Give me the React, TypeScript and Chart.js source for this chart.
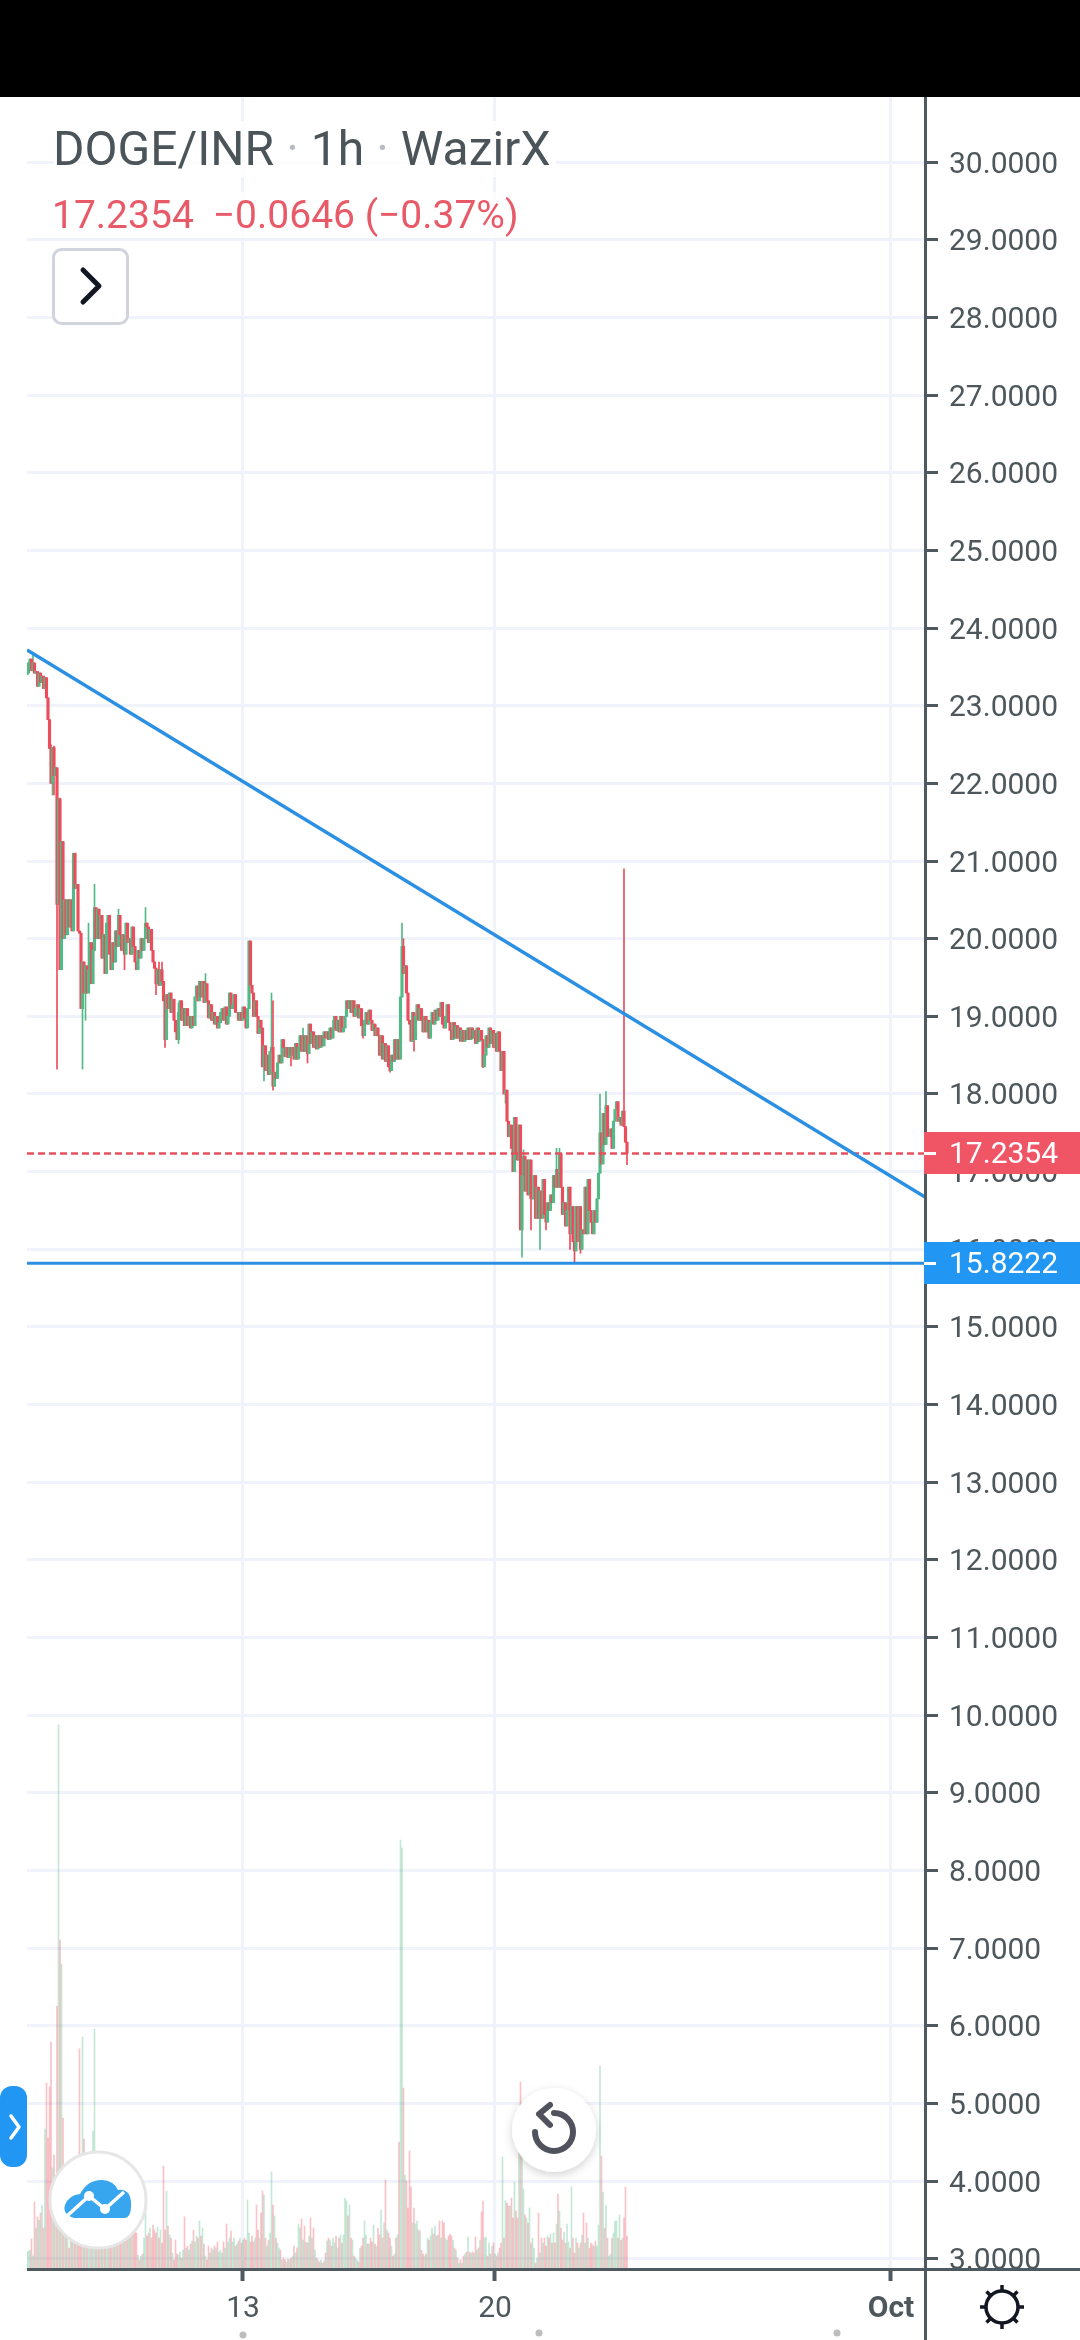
import React, { useEffect, useRef } from "react";
import { Chart, registerables } from "chart.js";

Chart.register(...registerables);

const firstOpen = 23.4;
const closes = [
  23.42,23.55,23.6,23.45,23.55,23.42,23.44,23.25,23.42,23.3,23.38,23.22,23.36,23.1,22.82,22.45,22.0,22.46,22.1,22.2,
  20.44,21.8,19.6,21.25,20.0,20.5,20.05,20.5,20.15,20.5,20.1,21.1,20.65,20.7,20.1,20.07,19.1,19.7,19.3,19.65,
  19.3,19.6,19.95,19.42,19.85,20.4,20.0,20.38,20.0,20.3,19.75,20.05,19.55,20.2,20.3,19.8,19.6,19.95,19.7,20.1,
  19.9,20.3,20.05,19.85,20.05,19.8,20.2,19.95,20.0,19.8,20.15,19.9,19.7,19.6,19.85,19.75,20.0,19.85,20.0,20.2,
  20.15,19.95,20.12,19.85,19.7,19.62,19.42,19.6,19.4,19.6,19.45,19.2,18.7,19.28,19.1,19.3,19.05,19.22,18.95,18.8,
  18.7,19.05,19.2,18.95,19.1,18.88,19.1,18.88,19.0,18.85,19.0,18.88,19.25,19.39,19.2,19.45,19.25,19.45,19.18,19.42,
  19.2,18.98,19.15,18.95,19.05,18.9,19.0,18.85,18.92,19.05,19.1,18.95,19.12,18.9,19.0,19.3,19.1,19.15,19.28,19.05,
  19.05,18.95,19.05,18.95,19.12,18.98,18.85,19.1,19.97,19.4,19.3,19.0,19.2,19.0,18.78,18.95,18.85,18.35,18.62,18.3,
  18.5,18.25,18.55,18.6,18.1,18.28,18.2,18.4,18.5,18.4,18.7,18.6,18.48,18.6,18.47,18.6,18.5,18.6,18.45,18.65,
  18.45,18.6,18.75,18.55,18.75,18.55,18.75,18.52,18.9,18.65,18.8,18.6,18.75,18.58,18.75,18.6,18.75,18.62,18.8,18.72,
  18.8,18.7,18.85,18.72,18.85,19.0,18.82,18.95,18.8,19.0,18.8,18.85,19.0,19.2,19.1,19.2,19.05,19.2,19.0,19.1,
  19.15,18.98,19.1,18.88,18.75,18.95,19.05,18.9,19.08,18.95,18.82,18.9,18.75,18.85,18.75,18.5,18.75,18.45,18.65,18.42,
  18.62,18.35,18.3,18.5,18.42,18.7,18.45,18.7,18.45,19.25,19.9,19.55,19.65,19.3,18.95,18.9,18.68,19.05,18.7,19.0,
  19.15,18.95,19.1,18.95,18.8,19.0,18.8,18.95,18.72,18.92,19.05,18.9,19.08,18.95,19.1,19.0,19.18,18.9,18.85,19.0,
  19.15,18.92,18.82,18.7,18.92,18.72,18.88,18.72,18.85,18.68,18.82,18.68,18.82,18.7,18.85,18.7,18.85,18.72,18.82,18.65,
  18.85,18.68,18.82,18.7,18.35,18.5,18.75,18.6,18.85,18.65,18.82,18.6,18.78,18.55,18.8,18.55,18.3,18.55,18.0,18.05,
  17.65,17.45,17.6,17.3,17.0,17.7,17.25,17.15,17.6,16.25,16.95,17.2,16.75,17.15,16.7,17.15,16.65,16.65,16.95,16.4,
  16.8,16.4,16.75,16.4,16.9,16.45,16.35,16.6,16.5,16.7,16.6,16.95,16.8,17.03,16.8,17.23,16.8,16.45,16.6,16.3,
  16.5,16.8,16.2,16.55,16.1,15.98,16.55,16.1,16.55,16.0,16.25,16.2,16.8,16.2,16.9,16.5,16.35,16.2,16.5,16.35,
  16.65,16.98,17.5,17.1,17.75,17.35,17.85,17.45,17.45,17.55,17.3,17.65,17.8,17.9,17.65,17.7,17.6,17.78,17.58,17.38,17.2354,
];

// long wicks readable in the picture: [candle number, price]
const wickHighs = [
  [4,23.68],[16,22.5],[18,22.48],[22,21.81],[41,20.2],[45,20.7],[61,20.38],[79,20.4],[88,19.7],[90,19.7],
  [101,19.17],[119,19.55],[163,19.3],[164,19.2],[184,18.85],[204,18.95],[250,20.2],[251,20.0],[331,17.28],
  [353,17.3],[355,17.3],[382,18.0],[386,18.03],[398,20.9],
];
const wickLows = [
  [17,21.85],[18,21.85],[20,18.32],[37,18.32],[39,18.95],[65,19.6],[86,19.28],[92,18.6],[101,18.65],[158,18.17],
  [164,18.05],[176,18.36],[187,18.4],[224,18.72],[242,18.28],[258,18.55],[304,18.34],[319,17.88],[330,15.9],
  [336,16.25],[342,16.0],[346,16.25],[362,16.0],[365,15.82],[369,15.95],[400,17.09],
];

const volumes = [
  16,17,18,29,12,66,40,51,48,55,63,40,139,185,130,181,226,100,113,90,
  262,543,328,304,150,70,60,40,20,35,30,45,25,30,60,219,100,231,129,70,
  60,40,70,45,137,239,60,50,30,35,45,30,40,45,50,30,35,45,40,55,
  40,35,45,60,45,50,40,35,45,55,40,45,60,35,13,8,12,14,30,63,
  32,35,40,30,43,38,35,41,30,38,25,102,38,77,42,33,30,15,8,28,
  14,13,16,10,18,51,20,22,18,24,27,38,26,32,30,47,32,40,24,12,
  8,22,15,20,18,22,20,26,16,18,15,26,20,44,26,30,37,26,30,22,
  24,27,30,25,28,30,28,68,35,26,32,26,30,63,38,30,55,77,73,30,
  22,28,35,96,63,52,30,25,20,18,8,10,8,6,9,8,10,12,22,15,
  20,44,40,49,28,42,26,25,32,50,30,40,18,10,8,6,8,5,7,15,
  27,30,28,22,30,25,32,20,30,33,25,33,70,67,52,63,30,28,12,10,
  8,6,20,22,30,47,33,24,24,30,26,43,24,22,40,33,58,30,45,88,
  38,35,30,22,12,14,30,33,126,428,420,180,93,87,60,117,81,45,60,44,
  47,38,37,18,14,12,14,30,28,32,40,34,42,32,33,47,30,47,45,30,
  28,32,34,32,28,20,18,10,5,8,5,12,14,16,31,16,15,16,15,31,
  18,20,28,56,67,30,31,12,25,14,22,25,14,12,15,20,25,111,30,67,
  65,62,62,70,50,86,57,50,128,186,143,79,53,50,45,60,25,30,20,5,
  10,55,15,30,25,30,22,32,30,34,25,35,25,44,74,57,40,28,36,25,
  44,26,20,81,30,15,30,25,20,25,33,55,25,45,30,20,25,23,22,27,
  22,43,202,112,76,40,63,30,12,14,30,35,47,47,30,53,28,30,50,81,32,
];

const firstHour = 144;
const priceTicks = [3,4,5,6,7,8,9,10,11,12,13,14,15,16,17,18,19,20,21,22,23,24,25,26,27,28,29,30];
const timeTicks = [288, 456, 720];
const timeLabels = ["13", "20", "Oct"];
const trendLine = [
  { x: 144, y: 23.716 },
  { x: 742.67, y: 16.674 },
];
const supportPrice = 15.8222;
const lastPrice = 17.2354;
const xRange = [144, 742.67];

const INK = "#4d575c";
const AXIS = "#4f5a60";
const GRID = "#f0f3fa";
const UP = "#53b987";
const DOWN = "#eb4d5c";
const BLUE = "#2196f3";
const RED = "#f05566";

export default function App() {
  const ref = useRef<HTMLCanvasElement | null>(null);

  useEffect(() => {
    const highMap = new Map(wickHighs.map(([i, v]) => [i, v]));
    const lowMap = new Map(wickLows.map(([i, v]) => [i, v]));
    const opens = closes.map((_, i) => (i === 0 ? firstOpen : closes[i - 1]));
    const hours = closes.map((_, i) => firstHour + i);
    const isUp = closes.map((c, i) => c >= opens[i]);

    const overlay = {
      id: "overlay",
      afterDraw(chart: any) {
        const c = chart.ctx;
        const y = chart.scales.y;
        c.save();
        c.fillStyle = "#ffffff";
        c.fillRect(926, 2268, 154, 72);
        c.fillStyle = AXIS;
        c.fillRect(924, 97, 3, 2243);
        c.fillRect(27, 2268, 1053, 3);
        const box = (value: number, color: string) => {
          const py = Math.round(y.getPixelForValue(value));
          c.fillStyle = color;
          c.fillRect(924, py - 21, 156, 42);
          c.fillStyle = "#ffffff";
          c.fillRect(924, py - 1, 12, 3);
          c.font = "30px Roboto";
          c.textBaseline = "middle";
          c.textAlign = "left";
          c.fillText(value.toFixed(4), 949, py + 2);
        };
        box(lastPrice, RED);
        box(supportPrice, BLUE);
        c.restore();
      },
    };

    const chart = new Chart(ref.current as HTMLCanvasElement, {
      type: "bar",
      plugins: [overlay],
      data: {
        datasets: [
          {
            type: "line",
            order: 0,
            data: [{ x: xRange[0], y: supportPrice }, { x: xRange[1], y: supportPrice }],
            borderColor: "#2b90e3",
            borderWidth: 3,
            pointRadius: 0,
            yAxisID: "y",
          },
          {
            type: "line",
            order: 1,
            data: trendLine,
            borderColor: "#2b90e3",
            borderWidth: 3.5,
            pointRadius: 0,
            yAxisID: "y",
          },
          {
            type: "line",
            order: 2,
            data: [{ x: xRange[0], y: lastPrice }, { x: xRange[1], y: lastPrice }],
            borderColor: "#e5515f",
            borderWidth: 2.5,
            borderDash: [7, 4],
            pointRadius: 0,
            yAxisID: "y",
          },
          {
            type: "bar",
            order: 3,
            yAxisID: "y",
            barThickness: 2.5,
            grouped: false,
            data: hours.map((h, i) => ({ x: h, y: [opens[i], closes[i]] })),
            backgroundColor: isUp.map((u) => (u ? UP : DOWN)),
          },
          {
            type: "bar",
            order: 4,
            yAxisID: "y",
            barThickness: 1,
            grouped: false,
            data: hours.map((h, i) => ({
              x: h,
              y: [
                lowMap.get(i) ?? Math.min(opens[i], closes[i]),
                highMap.get(i) ?? Math.max(opens[i], closes[i]),
              ],
            })),
            backgroundColor: isUp.map((u) => (u ? UP : DOWN)),
          },
          {
            type: "bar",
            order: 5,
            yAxisID: "vol",
            barThickness: 1,
            grouped: false,
            data: hours.map((h, i) => ({ x: h, y: volumes[i] })),
            backgroundColor: isUp.map((u) =>
              u ? "rgba(83,185,135,0.34)" : "rgba(235,77,92,0.34)"
            ),
          },
        ],
      } as any,
      options: {
        animation: false,
        responsive: false,
        devicePixelRatio: 1,
        layout: { padding: { top: 97, left: 27, right: 0, bottom: 0 } },
        plugins: { legend: { display: false }, tooltip: { enabled: false } },
        scales: {
          x: {
            type: "linear",
            min: xRange[0],
            max: xRange[1],
            offset: false,
            afterBuildTicks: (s: any) => {
              s.ticks = timeTicks.map((value) => ({ value }));
            },
            afterFit: (s: any) => {
              s.height = 72;
            },
            border: { display: false },
            grid: {
              offset: false,
              color: GRID,
              lineWidth: 3,
              tickColor: AXIS,
              tickLength: 13,
              tickWidth: 4,
            },
            ticks: {
              autoSkip: false,
              maxRotation: 0,
              padding: 10,
              color: INK,
              font: (ctx: any) => ({
                family: "Roboto",
                size: 30,
                weight: ctx.tick && ctx.tick.label === "Oct" ? "bold" : "normal",
              }),
              callback: (v: any) => timeLabels[timeTicks.indexOf(v)],
            },
          },
          y: {
            type: "linear",
            position: "right",
            min: 2.884,
            max: 30.837,
            afterBuildTicks: (s: any) => {
              s.ticks = priceTicks.map((value) => ({ value }));
            },
            afterFit: (s: any) => {
              s.width = 155;
            },
            border: { display: false },
            grid: {
              color: GRID,
              lineWidth: 3,
              tickColor: AXIS,
              tickLength: 13,
              tickWidth: 3,
            },
            ticks: {
              autoSkip: false,
              padding: 11,
              labelOffset: 3,
              color: INK,
              font: { family: "Roboto", size: 30 },
              callback: (v: any) => Number(v).toFixed(4),
            },
          },
          vol: {
            type: "linear",
            display: false,
            min: 0,
            max: 2171,
          },
        },
      } as any,
    });
    return () => chart.destroy();
  }, []);

  const abs = (o: React.CSSProperties): React.CSSProperties => ({ position: "absolute", ...o });

  return (
    <div style={abs({ left: 0, top: 0, width: 1080, height: 2340, overflow: "hidden", background: "#fff", fontFamily: "Roboto" })}>
      <canvas ref={ref} width={1080} height={2340} style={abs({ left: 0, top: 0, width: 1080, height: 2340 })} />
      <div style={abs({ left: 0, top: 0, width: 1080, height: 97, background: "#000" })} />

      <div style={abs({ left: 53, top: 121, height: 56, lineHeight: "56px", fontSize: 48, color: "#4a5459", whiteSpace: "nowrap", background: "rgba(255,255,255,0.82)", paddingRight: 6 })}>
        DOGE/INR
        <span style={{ color: "#b9bcc4", margin: "0 12px" }}>·</span>
        1h
        <span style={{ color: "#b9bcc4", margin: "0 12px" }}>·</span>
        WazirX
      </div>
      <div style={abs({ left: 52, top: 192, height: 46, lineHeight: "46px", fontSize: 39, color: "#e95a69", whiteSpace: "nowrap", background: "rgba(255,255,255,0.82)", paddingRight: 6 })}>
        17.2354<span style={{ marginLeft: 19 }}>−0.0646 (−0.37%)</span>
      </div>

      <svg width={1080} height={2340} style={abs({ left: 0, top: 0, pointerEvents: "none" })}>
        <defs>
          <filter id="soft" x="-30%" y="-30%" width="160%" height="160%">
            <feDropShadow dx="0" dy="3" stdDeviation="5" floodColor="#000" floodOpacity="0.18" />
          </filter>
        </defs>
        {/* legend toggle */}
        <rect x={53.5} y={249.5} width={74} height={74} rx={8} fill="#fff" stroke="#d1d4dc" strokeWidth={3} />
        <path d="M83 270 L99 286 L83 302" fill="none" stroke="#131722" strokeWidth={5} strokeLinecap="round" strokeLinejoin="round" />
        {/* side tab */}
        <rect x={0} y={2086} width={27} height={81} rx={12} fill={BLUE} />
        <path d="M11 2116 L19 2127 L11 2138" fill="none" stroke="#fff" strokeWidth={3.5} strokeLinecap="round" strokeLinejoin="round" />
        {/* logo */}
        <circle cx={98} cy={2200} r={48} fill="#fff" stroke="#e6e6e6" strokeWidth={3} />
        <path d="M74 2218 Q62 2214 65 2205 Q69 2195 80 2194 Q88 2179 103 2180 Q114 2181 118 2190 Q129 2188 131 2201 Q132 2218 124 2218 Z" fill="#38a6ef" />
        <path d="M67 2216 L89 2196 L105 2209 L124 2192" fill="none" stroke="#fff" strokeWidth={3.5} />
        <circle cx={89} cy={2196} r={5} fill="#fff" />
        <circle cx={105} cy={2209} r={5} fill="#fff" />
        {/* reset */}
        <circle cx={554} cy={2130} r={42} fill="#fff" filter="url(#soft)" />
        <path d="M554 2113 A19 19 0 1 1 535 2132" fill="none" stroke="#50535e" strokeWidth={6} strokeLinecap="round" />
        <path d="M550 2105 L539 2114 L550 2125" fill="none" stroke="#50535e" strokeWidth={6} strokeLinecap="round" strokeLinejoin="round" />
        {/* theme */}
        <circle cx={1002} cy={2307} r={16} fill="#fff" stroke="#131722" strokeWidth={3.5} />
        <path d="M1002 2285 V2291 M1002 2323 V2329 M980 2307 H986 M1018 2307 H1024 M986.5 2291.5 L990.5 2295.5 M1013.5 2318.5 L1017.5 2322.5 M1017.5 2291.5 L1013.5 2295.5 M990.5 2318.5 L986.5 2322.5" stroke="#131722" strokeWidth={3.5} />
        {/* page dots */}
        <circle cx={243} cy={2335} r={3.5} fill="#bdbdbd" />
        <circle cx={539} cy={2333} r={3.5} fill="#bdbdbd" />
        <circle cx={837} cy={2333} r={3.5} fill="#bdbdbd" />
      </svg>
    </div>
  );
}
